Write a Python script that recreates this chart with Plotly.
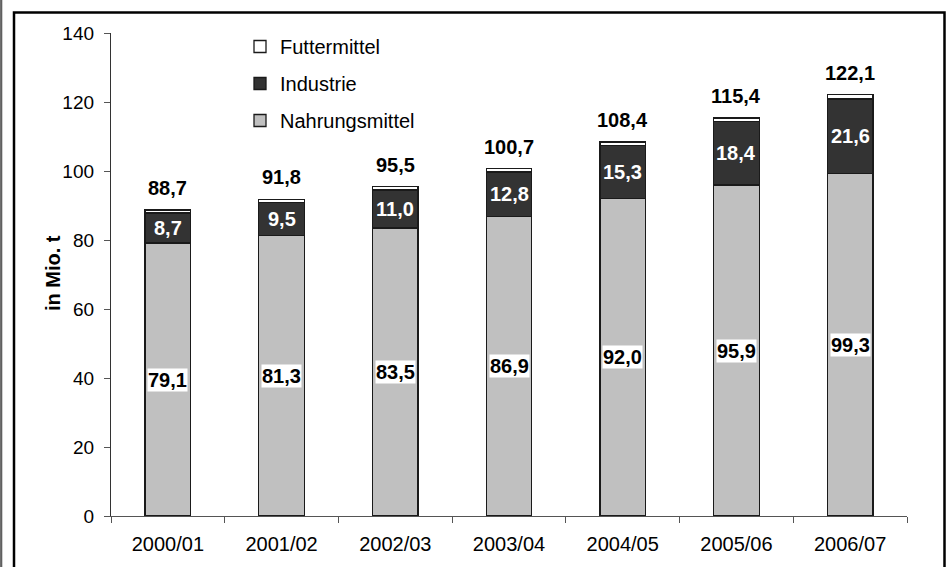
import plotly.graph_objects as go

years = ["2000/01", "2001/02", "2002/03", "2003/04", "2004/05", "2005/06", "2006/07"]
nahrung = [79.1, 81.3, 83.5, 86.9, 92.0, 95.9, 99.3]
industrie = [8.7, 9.5, 11.0, 12.8, 15.3, 18.4, 21.6]
totals = [88.7, 91.8, 95.5, 100.7, 108.4, 115.4, 122.1]
futter = [round(t - n - i, 1) for t, n, i in zip(totals, nahrung, industrie)]
y_ticks = [0, 20, 40, 60, 80, 100, 120, 140]

FONT = "Liberation Sans, Arial, sans-serif"

def fmt(v):
    return f"{v:.1f}".replace(".", ",")

line = dict(color="#1a1a1a", width=1.3)

fig = go.Figure()
fig.add_trace(go.Bar(
    x=years, y=nahrung, name="Nahrungsmittel",
    marker=dict(color="#c0c0c0", line=line),
    legendgroup="n", legendrank=3,
))
fig.add_trace(go.Bar(
    x=years, y=industrie, name="Industrie",
    marker=dict(color="#333333", line=line),
    legendgroup="i", legendrank=2,
))
fig.add_trace(go.Bar(
    x=years, y=futter, name="Futtermittel",
    marker=dict(color="white", line=line),
    legendgroup="f", legendrank=1,
))

annotations = []
for yr, n in zip(years, nahrung):
    annotations.append(dict(
        x=yr, y=n / 2, text=f"<b>{fmt(n)}</b>", showarrow=False,
        font=dict(size=20, color="black", family=FONT),
        bgcolor="white", borderpad=0,
    ))
for yr, n, i in zip(years, nahrung, industrie):
    annotations.append(dict(
        x=yr, y=n + i / 2, text=f"<b>{fmt(i)}</b>", showarrow=False,
        font=dict(size=20, color="white", family=FONT),
    ))
for yr, t in zip(years, totals):
    annotations.append(dict(
        x=yr, y=t, text=f"<b>{fmt(t)}</b>", showarrow=False,
        font=dict(size=20, color="black", family=FONT),
        yanchor="middle", yshift=22,
    ))
annotations.append(dict(
    xref="paper", yref="paper", x=(40 - 111) / 796, y=0.503,
    text="<b>in Mio. t</b>", textangle=-90, showarrow=False,
    font=dict(size=20, color="black", family=FONT),
))

shapes = [
    dict(type="rect", xref="paper", yref="paper",
         x0=(14 - 111) / 796, x1=(944.5 - 111) / 796,
         y0=(519 - 580) / 485, y1=(519 - 13.5) / 485,
         line=dict(color="black", width=2.5), fillcolor="rgba(0,0,0,0)"),
    dict(type="line", xref="paper", yref="paper",
         x0=(1.2 - 111) / 796, x1=(1.2 - 111) / 796,
         y0=(519 - 580) / 485, y1=(519 + 20) / 485,
         line=dict(color="#606060", width=2.2)),
]

fig.update_layout(
    width=952, height=567,
    margin=dict(l=111, r=45, t=33, b=48),
    paper_bgcolor="white", plot_bgcolor="white",
    barmode="stack", bargap=0.6,
    font=dict(family=FONT, size=19, color="black"),
    showlegend=True,
    legend=dict(
        x=(240 - 111) / 796, y=(519 - 28) / 485, xanchor="left", yanchor="top",
        traceorder="grouped", tracegroupgap=8,
        font=dict(size=20, family=FONT, color="black"),
        bgcolor="rgba(0,0,0,0)",
    ),
    xaxis=dict(
        type="category", showline=True, linecolor="#555555", linewidth=1.3,
        ticks="outside", tickson="boundaries", ticklen=6, tickcolor="#555555",
        tickfont=dict(size=20, family=FONT), showgrid=False,
        ticklabelstandoff=10,
    ),
    yaxis=dict(
        range=[0, 140], tickvals=y_ticks, showline=True, linecolor="#333333",
        linewidth=1.3, ticks="outside", ticklen=6, tickcolor="#555555",
        tickfont=dict(size=19, family=FONT), showgrid=False, zeroline=False,
        ticklabelstandoff=6,
    ),
    annotations=annotations,
    shapes=shapes,
)

fig.write_html("out.html", config={"displayModeBar": False},
               post_script="document.body.style.margin='0';")
